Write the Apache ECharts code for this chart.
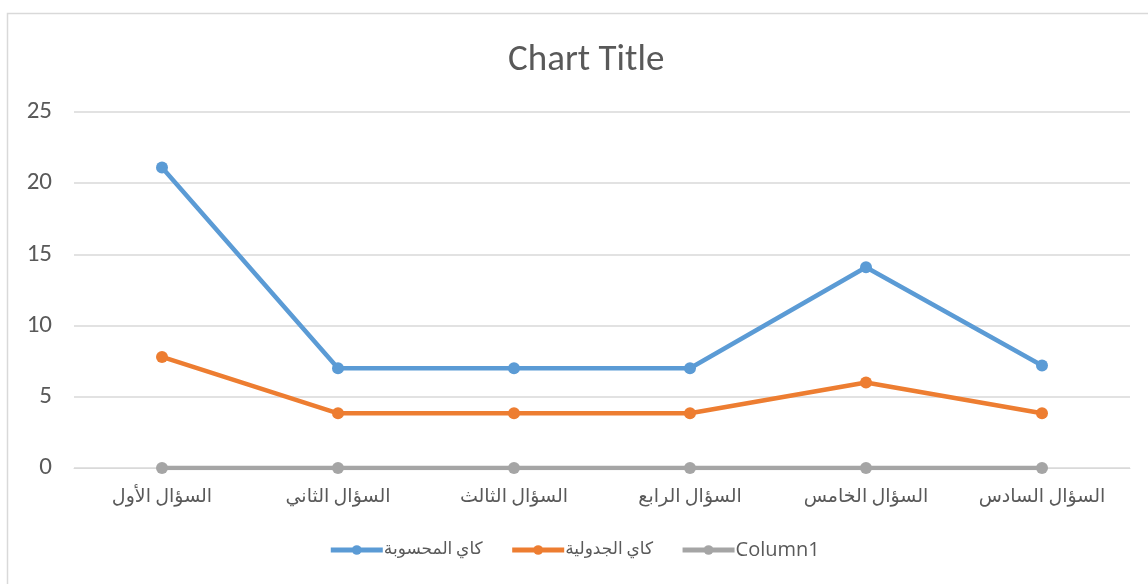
<!DOCTYPE html>
<html>
<head>
<meta charset="utf-8">
<script src="https://cdn.jsdelivr.net/npm/echarts@6/dist/echarts.min.js"></script>
<style>
  html, body { margin: 0; padding: 0; background: #fff; }
  #chart { width: 1148px; height: 584px; }
</style>
</head>
<body>
<div id="chart"></div>
<script>
// categories (x axis)
var questions = ['السؤال الأول', 'السؤال الثاني', 'السؤال الثالث', 'السؤال الرابع', 'السؤال الخامس', 'السؤال السادس']
// series values
var kaiCalculated = [21.1, 7, 7, 7, 14.1, 7.2]
var kaiTabular = [7.8, 3.84, 3.84, 3.84, 6, 3.84]
var column1 = [0, 0, 0, 0, 0, 0]
var seriesNames = ['كاي المحسوبة', 'كاي الجدولية', 'Column1']

var chart = echarts.init(document.getElementById('chart'))
var txt = '#595959'
var font = 'Calibri, Carlito, "Open Sans", "DejaVu Sans", sans-serif'
var font2 = '"Open Sans", "DejaVu Sans", sans-serif'

function lineSeries(name, data, color) {
  return {
    name: name,
    type: 'line',
    data: data,
    symbol: 'circle',
    symbolSize: 12,
    itemStyle: { color: color },
    lineStyle: { color: color, width: 4.5 },
    emphasis: { disabled: true },
  }
}

var option = {
  animation: false,
  textStyle: { fontFamily: font },
  // chart frame
  graphic: [{
    type: 'rect',
    shape: { x: 7.5, y: 13.5, width: 1150, height: 600 },
    style: { fill: 'none', stroke: '#d9d9d9', lineWidth: 1.5 },
    silent: true,
  }],
  title: {
    text: 'Chart Title',
    left: 503,
    top: 37,
    textStyle: { color: txt, fontSize: 37, fontWeight: 'normal', fontFamily: font },
  },
  legend: {
    bottom: 19,
    left: 'center',
    itemWidth: 52,
    itemHeight: 12,
    itemGap: 27,
    data: seriesNames,
    lineStyle: { width: 5 },
    formatter: function (name) {
      // latin names get a wider face, arabic keeps the default one
      return /^[A-Za-z0-9]+$/.test(name) ? '{lat|' + name + '}' : '{ar|' + name + '}'
    },
    textStyle: {
      color: txt,
      fontSize: 17,
      fontFamily: font,
      padding: [0, 0, 0, -4],
      rich: {
        ar: { fontSize: 17, fontFamily: font, color: txt },
        lat: { fontSize: 20, fontFamily: font2, color: txt },
      },
    },
  },
  grid: { left: 74, right: 18, top: 112, bottom: 116 },
  xAxis: {
    type: 'category',
    data: questions,
    boundaryGap: true,
    axisLine: { show: true, lineStyle: { color: '#d9d9d9', width: 1 } },
    axisTick: { show: false },
    axisLabel: { color: txt, fontSize: 19, margin: 20 },
  },
  yAxis: {
    type: 'value',
    min: 0,
    max: 25,
    interval: 5,
    axisLine: { show: false },
    axisTick: { show: false },
    axisLabel: { color: txt, fontSize: 25, fontFamily: font, margin: 22 },
    splitLine: { lineStyle: { color: '#d9d9d9', width: 1.5 } },
  },
  series: [
    lineSeries(seriesNames[0], kaiCalculated, '#5B9BD5'),
    lineSeries(seriesNames[1], kaiTabular, '#ED7D31'),
    lineSeries(seriesNames[2], column1, '#A5A5A5'),
  ],
}

chart.setOption(option)
window.addEventListener('resize', function () {
  chart.resize()
})
</script>
</body>
</html>
